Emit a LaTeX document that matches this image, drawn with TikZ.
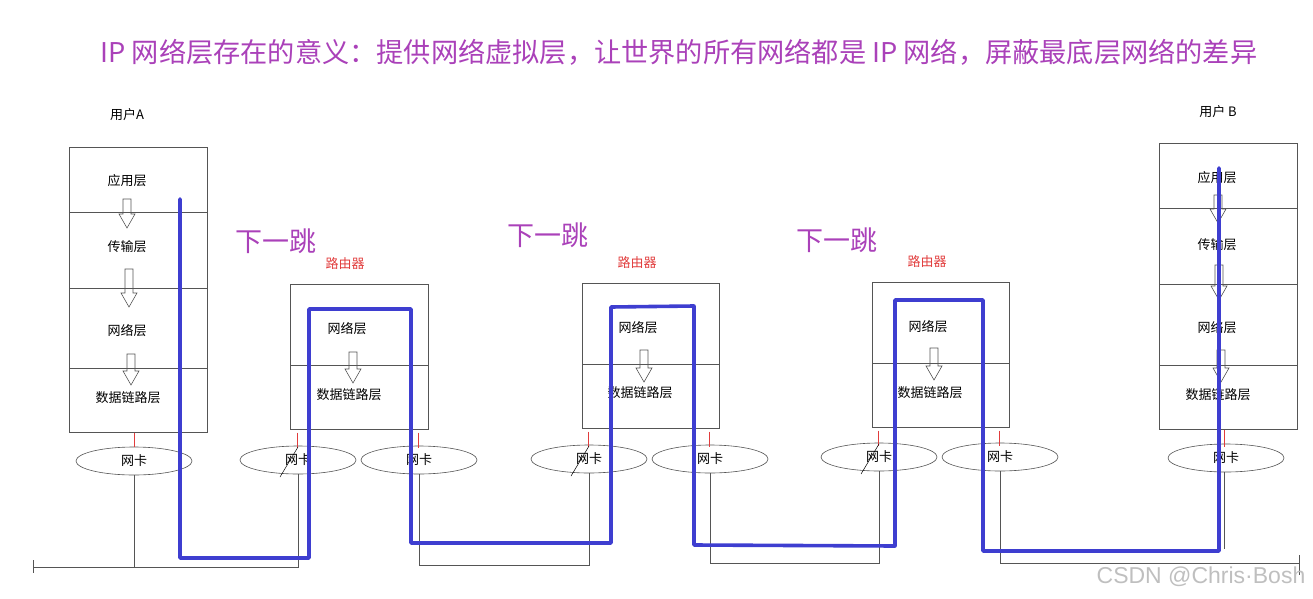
\documentclass[tikz,border=0pt]{standalone}
\usepackage{fontspec}
\setmainfont{Noto Sans CJK SC}
\newfontfamily\marksans{Liberation Sans}
\usepackage{tikz}
\usetikzlibrary{shapes, arrows}

\definecolor{hopviolet}{RGB}{170,65,185}
\definecolor{routerred}{RGB}{225,60,60}
\definecolor{routeblue}{RGB}{62,62,208}
\definecolor{framegray}{RGB}{85,85,85}

\begin{document}
\begin{tikzpicture}[x=1pt, y=-1pt,
  every node/.style={font=\fontsize{13}{15}\selectfont, inner sep=0pt},
  stack/.style={draw=framegray, line width=0.7pt, minimum width=138pt, anchor=north west},
  nic/.style={ellipse, draw=framegray, line width=0.6pt, minimum width=116pt, minimum height=28pt},
  hop/.style={text=hopviolet, font=\fontsize{27}{31}\selectfont},
  wire/.style={draw=framegray, line width=0.6pt},
  tap/.style={draw=routerred, line width=0.6pt},
  route/.style={draw=routeblue, line width=3.6pt, line join=round, line cap=round},
  pics/drop/.style={code={\draw[framegray, line width=0.6pt] (-4,0) -- (-4,{#1-14}) -- (-8,{#1-14}) -- (0,#1) -- (8,{#1-14}) -- (4,{#1-14}) -- (4,0) -- cycle;}}
]
\useasboundingbox (0,0) rectangle (1313,599);

\node[hop, font=\fontsize{27.2}{31}\selectfont] (title) at (679,52) {IP 网络层存在的意义：提供网络虚拟层，让世界的所有网络都是 IP 网络，屏蔽最底层网络的差异};

% user A
\node (userA) at (127,115) {用户A};
\node[stack, minimum height=285pt] (hostA) at (69,147) {};
\foreach \y in {212,288,368} \draw[wire] (69,\y) -- (207,\y);
\node (appA) at (127,181) {应用层};
\node (transA) at (127,247) {传输层};
\node (netA) at (127,331) {网络层};
\node (linkA) at (128,398) {数据链路层};
\pic at (127,199) {drop=29};
\pic at (129,269) {drop=38};
\pic at (131,354) {drop=31};
\node[nic] (nicA) at (134,461) {网卡};
\draw[tap] (hostA.south -| nicA.north) -- (nicA.north);

% routers
\node[hop] (hop1) at (276,241) {下一跳};
\node[hop] (hop2) at (548,235) {下一跳};
\node[hop] (hop3) at (837,240) {下一跳};

\node[text=routerred] (rname1) at (345,264) {路由器};
\node[stack, minimum height=145pt] (router1) at (290,284) {};
\draw[wire] (290,365) -- (428,365);
\node (net1) at (347,329) {网络层};
\node (link1) at (349,395) {数据链路层};
\pic at (353,352) {drop=31};
\node[nic] (r1west) at (298,460) {网卡};
\node[nic] (r1east) at (419,460) {网卡};

\node[text=routerred] (rname2) at (637,263) {路由器};
\node[stack, minimum height=145pt, minimum width=137pt] (router2) at (582,283) {};
\draw[wire] (582,364) -- (719,364);
\node (net2) at (638,328) {网络层};
\node (link2) at (640,393) {数据链路层};
\pic at (644,350) {drop=32};
\node[nic] (r2west) at (589,459) {网卡};
\node[nic] (r2east) at (710,459) {网卡};

\node[text=routerred] (rname3) at (927,262) {路由器};
\node[stack, minimum height=145pt, minimum width=137pt] (router3) at (872,282) {};
\draw[wire] (872,363) -- (1009,363);
\node (net3) at (928,327) {网络层};
\node (link3) at (930,393) {数据链路层};
\pic at (934,348) {drop=32};
\node[nic] (r3west) at (879,457) {网卡};
\node[nic] (r3east) at (1000,457) {网卡};

\foreach \r/\n in {router1/r1west, router1/r1east, router2/r2west, router2/r2east, router3/r3west, router3/r3east}
  \draw[tap] (\r.south -| \n.north) ++(-1,3) -- ++(0,15);
\foreach \n in {r1west, r2west, r3west}
  \draw[line width=0.5pt] (\n) ++(-18,17) -- ++(18,-30);

% user B
\node (userB) at (1218,112) {用户 B};
\node[stack, minimum height=286pt] (hostB) at (1159,143) {};
\foreach \y in {208,284,365} \draw[wire] (1159,\y) -- (1297,\y);
\node (appB) at (1217,178) {应用层};
\node (transB) at (1217,245) {传输层};
\node (netB) at (1217,328) {网络层};
\node (linkB) at (1218,395) {数据链路层};
\pic at (1218,195) {drop=28};
\pic at (1219,265) {drop=35};
\pic at (1221,350) {drop=32};
\node[nic] (nicB) at (1226,458) {网卡};
\draw[tap] (hostB.south -| 1224,0) -- (1224,447);

% lans
\coordinate (lan1) at (33,567);
\coordinate (lan2) at (0,565);
\coordinate (lan3) at (0,563);
\coordinate (lan4) at (1299,563);
\draw[wire] (lan1) ++(0,-7) -- ++(0,13);
\draw[wire] (nicA.south) -- (nicA.south |- lan1);
\draw[wire] (lan1) -- (r1west.south |- lan1) -- (r1west.south);
\draw[wire] (r1east.south) -- (r1east.south |- lan2) -- (r2west.south |- lan2) -- (r2west.south);
\draw[wire] (r2east.south) -- (r2east.south |- lan3) -- (r3west.south |- lan3) -- (r3west.south);
\draw[wire] (r3east.south) -- (r3east.south |- lan4) -- (lan4);
\draw[wire] (nicB.south) ++(-2,0) -- ++(0,77);
\draw[wire] (lan4) ++(0,-8) -- ++(0,20);

% route of the packet
\draw[route] (180,199) -- (180,558) -- (309,558) -- (309,309) -- (411,309) -- (411,543)
  -- (611,543) -- (611,307) -- (694,306) -- (694,545) -- (895,546) -- (895,300)
  -- (983,300) -- (983,551) -- (1219,551) -- (1219,168);

\node[text=black!25, font=\marksans\fontsize{23}{26}\selectfont] (mark) at (1201,577) {CSDN @Chris·Bosh};
\end{tikzpicture}
\end{document}
